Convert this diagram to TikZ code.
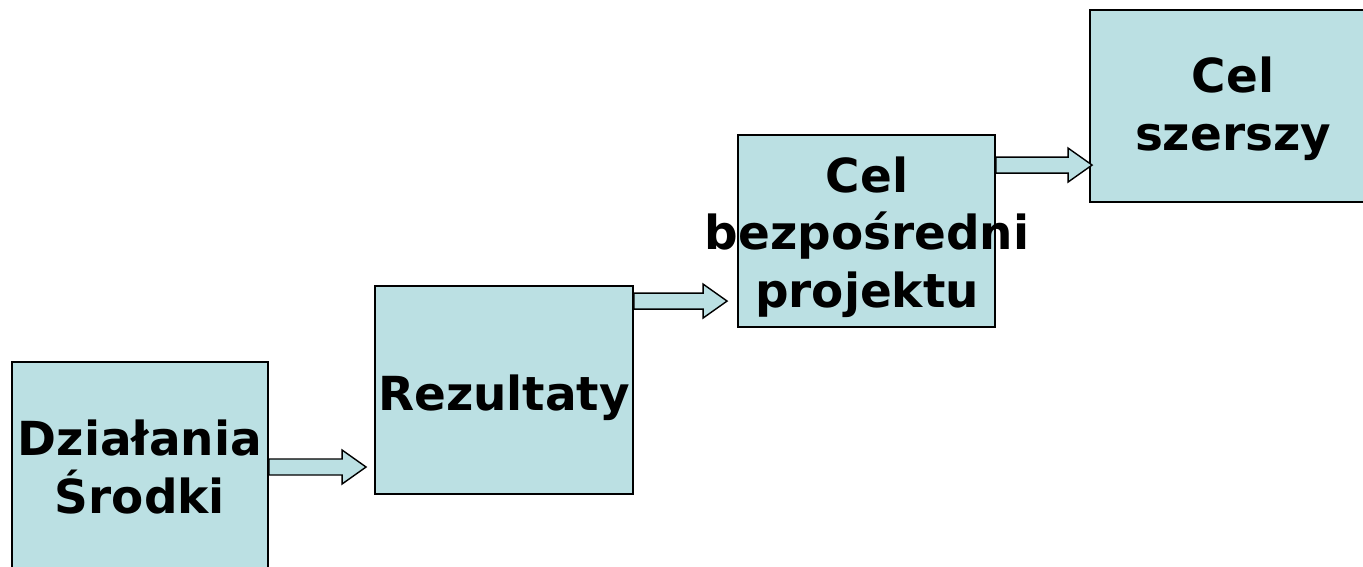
\documentclass[tikz,border=0pt]{standalone}
\usepackage{fontspec}
\setmainfont{DejaVu Sans}
\usetikzlibrary{calc}
\definecolor{boxblue}{HTML}{BBE0E3}

\newcommand{\blockarrow}[3]{%
    \path #1 coordinate (s);
    \path ($(s -| #2)+(-#3,0)$) coordinate (t);
    \draw[barrow] ($(s)+(0,-8)$) -- ($(t)+(-24,-8)$) -- ($(t)+(-24,-17)$) -- (t)
        -- ($(t)+(-24,17)$) -- ($(t)+(-24,8)$) -- ($(s)+(0,8)$) -- cycle;
}

\begin{document}
\begin{tikzpicture}[x=0.02cm, y=-0.02cm,
    box/.style={draw=black, line width=1.1pt, fill=boxblue, inner sep=0pt},
    txt/.style={align=center, anchor=base, inner sep=0pt,
        font=\fontsize{26.7}{32.7}\selectfont\bfseries},
    barrow/.style={draw=black, line width=0.8pt, fill=boxblue, line join=miter}]
    \clip (0,0) rectangle (1363,566);

    \node[box, minimum width=5.12cm, minimum height=4.2cm] (dz) at (140, 467) {};
    \node[box, minimum width=5.16cm, minimum height=4.16cm] (rez) at (504, 390) {};
    \node[box, minimum width=5.14cm, minimum height=3.84cm] (cb) at (866.5, 231) {};
    \node[box, minimum width=5.72cm, minimum height=3.84cm] (cs) at (1233, 106) {};

    \node[txt] (dzt) at (140, 513) {Działania\\Środki};
    \node[txt] (rezt) at (504, 410) {Rezultaty};
    \node[txt] (cbt) at (867, 307) {Cel\\bezpośredni\\projektu};
    \node[txt] (cst) at (1233, 150) {Cel\\szerszy};

    \blockarrow{(dz.east)}{rez.west}{8}
    \blockarrow{($(rez.north east)+(0,16)$)}{cb.west}{10}
    \blockarrow{($(cb.north east)+(0,31)$)}{cs.west}{-3}
\end{tikzpicture}
\end{document}
